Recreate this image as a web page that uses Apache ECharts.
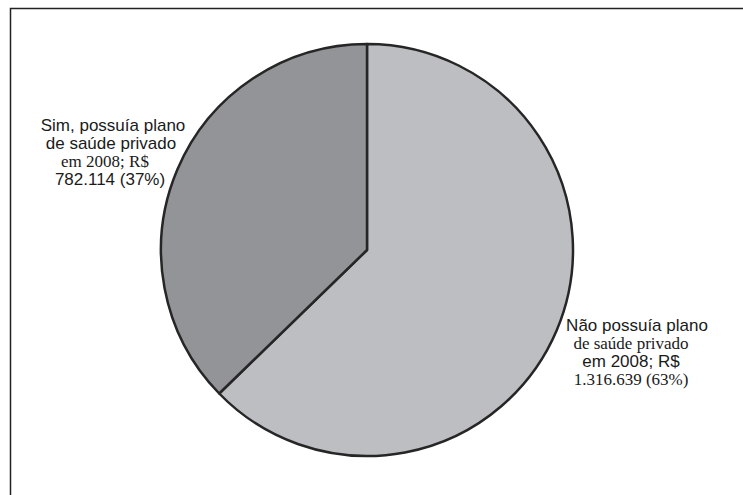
<!DOCTYPE html>
<html>
<head>
<meta charset="utf-8">
<script src="https://cdn.jsdelivr.net/npm/echarts@6/dist/echarts.min.js"></script>
<style>html,body{margin:0;padding:0;background:#fff}#c{width:743px;height:495px}</style>
</head>
<body>
<div id="c"></div>
<script>
const categories = ["Não possuía plano de saúde privado em 2008", "Sim, possuía plano de saúde privado em 2008"];
const values = [1316639, 782114];
const percents = ["63%", "37%"];
const valueLabels = ["1.316.639", "782.114"];

const chart = echarts.init(document.getElementById('c'), null, {renderer: 'svg'});
const sans = '"Liberation Sans", Arial, sans-serif';
const serif = '"Liberation Serif", "Times New Roman", serif';
const base = {color: '#1a1a1a', lineHeight: 18};
const rich = {
  s: Object.assign({fontFamily: sans, fontSize: 17}, base),
  t: Object.assign({fontFamily: serif, fontSize: 17}, base),
  sR: Object.assign({fontFamily: sans, fontSize: 17, padding: [0, 0, 0, 12]}, base),
  tL: Object.assign({fontFamily: serif, fontSize: 17, padding: [0, 12, 0, 0]}, base),
  sL: Object.assign({fontFamily: sans, fontSize: 17, padding: [0, 2, 0, 0]}, base),
  sR2: Object.assign({fontFamily: sans, fontSize: 17, padding: [0, 0, 0, 4]}, base)
};
const labelTexts = [
  '{sR|Não possuía plano}\n{t|de saúde privado}\n{s|em 2008; R$}\n{t|' + valueLabels[0] + ' (' + percents[0] + ')}',
  '{sR2|Sim, possuía plano}\n{s|de saúde privado}\n{tL|em 2008; R$}\n{sL|' + valueLabels[1] + ' (' + percents[1] + ')}'
];
const labelPos = [[631, 352], [111, 152]];

chart.setOption({
  animation: false,
  backgroundColor: '#fff',
  graphic: [
    {type: 'polyline', shape: {points: [[10.5, 500], [10.5, 8.5], [750, 8.5]]}, style: {stroke: '#222', lineWidth: 1.5, fill: null}}
  ],
  series: [{
    type: 'pie',
    center: [367, 250],
    radius: [0, 206],
    startAngle: 90,
    clockwise: true,
    data: categories.map((c, i) => ({
      name: c,
      value: values[i],
      itemStyle: {color: i === 0 ? '#bdbec2' : '#939498'},
      label: {formatter: labelTexts[i]}
    })),
    itemStyle: {borderColor: '#262626', borderWidth: 2.5},
    label: {show: true, position: 'outside', rich: rich, align: 'center', overflow: 'none', width: 300},
    labelLine: {show: false},
    labelLayout: function (p) {
      return {x: labelPos[p.dataIndex][0], y: labelPos[p.dataIndex][1], align: 'center', verticalAlign: 'middle'};
    },
    emphasis: {disabled: true}
  }]
});
</script>
</body>
</html>
